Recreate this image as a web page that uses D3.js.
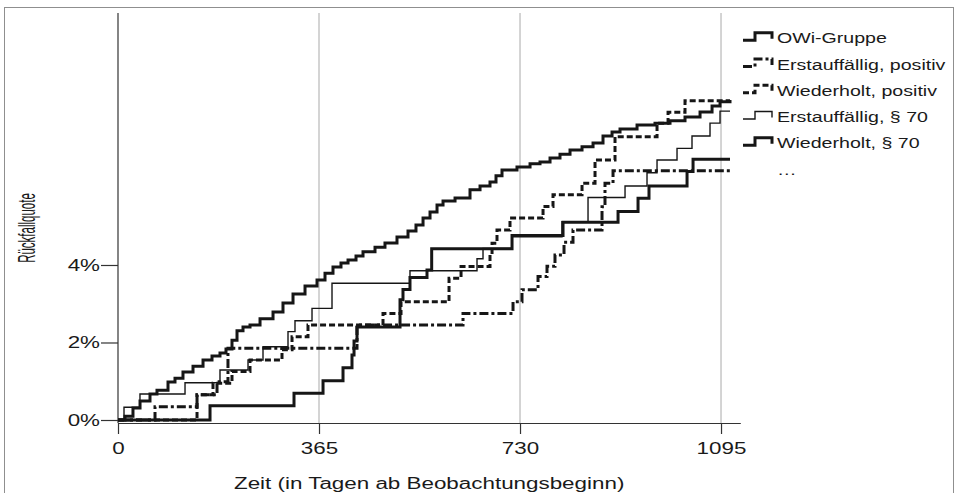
<!DOCTYPE html>
<html>
<head>
<meta charset="utf-8">
<script src="https://cdn.jsdelivr.net/npm/d3@7"></script>
<style>
  body { margin: 0; background: #fff; }
  svg { display: block; }
  text { font-family: "Liberation Sans", Arial, sans-serif; fill: #1a1a1a; }
</style>
</head>
<body>
<svg id="chart" width="956" height="493"></svg>
<script>
// ---- data: cumulative relapse rate (%) by day since start of observation ----
const seriesNames = ["OWi-Gruppe", "Erstauffällig, positiv", "Wiederholt, positiv", "Erstauffällig, § 70", "Wiederholt, § 70"];
const tickDays = [0, 365, 730, 1095];
const tickRates = [0, 2, 4];

const owiDays = [0, 12.7, 27.2, 40.0, 58.1, 70.8, 90.8, 103.5, 118.0, 136.2, 154.4, 170.7, 185.2, 196.1, 207.0, 216.1, 227.0, 239.7, 257.9, 281.5, 299.6, 317.8, 339.6, 361.4, 375.9, 390.4, 404.9, 417.7, 432.2, 444.9, 466.7, 484.8, 506.6, 526.6, 541.1, 553.9, 566.6, 579.3, 590.2, 612.0, 639.2, 657.4, 675.5, 686.4, 697.3, 724.5, 748.2, 766.3, 784.5, 802.6, 820.8, 842.6, 862.6, 880.7, 897.1, 911.6, 942.5, 975.1, 1002.4, 1029.6, 1056.9, 1078.7, 1093.2, 1111.3];
const owiRate = [0, 0.10, 0.31, 0.49, 0.67, 0.77, 0.98, 1.08, 1.24, 1.39, 1.55, 1.65, 1.73, 1.83, 2.06, 2.30, 2.40, 2.45, 2.61, 2.79, 3.02, 3.25, 3.46, 3.61, 3.79, 3.95, 4.05, 4.13, 4.23, 4.34, 4.46, 4.57, 4.72, 4.88, 5.03, 5.21, 5.37, 5.55, 5.65, 5.73, 5.94, 6.04, 6.14, 6.30, 6.45, 6.53, 6.61, 6.66, 6.76, 6.86, 6.97, 7.05, 7.15, 7.33, 7.43, 7.51, 7.61, 7.66, 7.72, 7.82, 7.95, 8.10, 8.21, 8.26];

const erstPosDays = [0, 67.2, 143.5, 179.8, 199.7, 434.0, 626.5, 717.3, 733.6, 762.7, 779.0, 793.5, 809.9, 826.2, 878.9, 884.3, 898.9, 1111.3];
const erstPosRate = [0, 0.34, 0.65, 0.99, 1.85, 2.45, 2.75, 3.05, 3.36, 3.70, 3.97, 4.26, 4.59, 4.90, 5.50, 6.11, 6.43, 6.43];

const wiedPosDays = [0, 143.5, 172.5, 207.0, 239.7, 297.8, 316.0, 345.0, 481.2, 513.9, 601.1, 622.9, 675.5, 679.2, 688.2, 711.8, 771.8, 789.9, 842.6, 866.2, 902.5, 978.8, 998.8, 1029.6, 1111.3];
const wiedPosRate = [0, 0.65, 0.95, 1.25, 1.55, 1.81, 2.15, 2.45, 2.75, 3.05, 3.66, 3.96, 4.26, 4.56, 4.90, 5.21, 5.51, 5.81, 6.11, 6.71, 7.31, 7.66, 7.94, 8.24, 8.24];

const erst70Days = [0, 10.9, 39.9, 121.7, 185.2, 236.1, 263.3, 308.7, 321.4, 352.3, 388.6, 530.2, 651.9, 662.8, 715.5, 806.2, 853.5, 920.7, 960.6, 978.8, 1015.1, 1042.3, 1075.0, 1093.2, 1111.3];
const erst70Rate = [0, 0.33, 0.67, 0.96, 1.29, 1.55, 1.89, 2.28, 2.56, 2.88, 3.53, 3.85, 4.16, 4.43, 4.73, 5.12, 5.74, 6.04, 6.38, 6.71, 7.01, 7.33, 7.66, 7.97, 7.97];

const wied70Days = [0, 167.1, 319.6, 372.3, 408.6, 424.9, 428.6, 434.0, 512.1, 517.5, 530.2, 561.1, 569.6, 715.5, 808.1, 908.0, 944.3, 964.2, 1033.3, 1044.2, 1111.3];
const wied70Rate = [0, 0.37, 0.69, 1.01, 1.35, 1.68, 2.04, 2.40, 3.10, 3.37, 3.68, 3.87, 4.42, 4.76, 5.10, 5.38, 5.72, 6.04, 6.41, 6.73, 6.73];

// ---- drawing ----
const stretch = 1.4;            // wide lettering used throughout the figure
const ink = "#161616";

const series = [
  { name: seriesNames[0], days: owiDays,     rate: owiRate,     width: 3,   dash: null },
  { name: seriesNames[1], days: erstPosDays, rate: erstPosRate, width: 3,   dash: "9,3,3,3" },
  { name: seriesNames[2], days: wiedPosDays, rate: wiedPosRate, width: 3,   dash: "6,3" },
  { name: seriesNames[3], days: erst70Days,  rate: erst70Rate,  width: 1.4, dash: null },
  { name: seriesNames[4], days: wied70Days,  rate: wied70Rate,  width: 3,   dash: null }
];

const svg = d3.select("#chart");
const x = d3.scaleLinear().domain([0, 1130]).range([118, 740.3]);
const y = d3.scaleLinear().domain([0, 10.5]).range([420, 13.1]);
const axisY = 423;

// outer frame
svg.append("rect")
  .attr("x", 4.5).attr("y", 7.5).attr("width", 949).attr("height", 500)
  .attr("fill", "none").attr("stroke", "#8f8f8f").attr("stroke-width", 1);

// vertical reference lines at each full year
svg.append("g").selectAll("line")
  .data(tickDays.filter(d => d > 0))
  .join("line")
  .attr("x1", d => x(d)).attr("x2", d => x(d))
  .attr("y1", y(10.5)).attr("y2", axisY)
  .attr("stroke", "#c6c6c6").attr("stroke-width", 1.5);

// x axis
const gx = svg.append("g")
  .attr("transform", `translate(0,${axisY})`)
  .call(d3.axisBottom(x).tickValues(tickDays).tickFormat(d3.format("d"))
    .tickSizeInner(11).tickSizeOuter(0).tickPadding(9))
  .attr("font-family", null).attr("font-size", null);
gx.select(".domain").attr("stroke", "#333").attr("stroke-width", 1.2);
gx.selectAll(".tick line").attr("stroke", "#333").attr("stroke-width", 1.2);
gx.selectAll(".tick text")
  .attr("font-size", 16)
  .attr("fill", ink)
  .attr("transform", `scale(${stretch},1)`);

// y axis
const gy = svg.append("g")
  .attr("transform", `translate(${x(0)},0)`)
  .call(d3.axisLeft(y).tickValues(tickRates).tickFormat(d => d + "%")
    .tickSizeInner(17).tickSizeOuter(0).tickPadding(1))
  .attr("font-family", null).attr("font-size", null);
gy.select(".domain").remove();
gy.selectAll(".tick line").attr("stroke", "#333").attr("stroke-width", 1.2);
gy.selectAll(".tick text")
  .attr("font-size", 16)
  .attr("fill", ink)
  .attr("x", -18 / stretch)
  .attr("transform", `scale(${stretch},1)`);
svg.append("line")
  .attr("x1", x(0)).attr("x2", x(0))
  .attr("y1", y(10.5)).attr("y2", axisY)
  .attr("stroke", "#333").attr("stroke-width", 1.2);

// axis titles
svg.append("text")
  .attr("transform", `translate(${(x.range()[0] + x.range()[1]) / 2},489) scale(${stretch},1)`)
  .attr("text-anchor", "middle").attr("font-size", 16)
  .text("Zeit (in Tagen ab Beobachtungsbeginn)");
svg.append("text")
  .attr("transform", `translate(27,228) scale(2.1,1) rotate(-90)`)
  .attr("text-anchor", "middle").attr("dy", "0.35em").attr("font-size", 11.5)
  .text("Rückfallquote");

// step curves
const line = d3.line()
  .x(d => x(d[0]))
  .y(d => y(d[1]))
  .curve(d3.curveStepAfter);

svg.append("g").selectAll("path")
  .data(series)
  .join("path")
  .attr("d", s => line(s.days.map((d, i) => [d, s.rate[i]])))
  .attr("fill", "none")
  .attr("stroke", ink)
  .attr("stroke-width", s => s.width)
  .attr("stroke-dasharray", s => s.dash)
  .attr("stroke-linejoin", "miter");

// legend
const legY0 = 38.3, legStep = 26.25;
const leg = svg.append("g").selectAll("g")
  .data(series)
  .join("g")
  .attr("transform", (s, i) => `translate(743,${legY0 + i * legStep})`);
leg.append("path")
  .attr("d", "M0,2H12V-5.5H29V0.5")
  .attr("fill", "none")
  .attr("stroke", ink)
  .attr("stroke-width", s => s.width)
  .attr("stroke-dasharray", s => s.dash);
leg.append("text")
  .attr("transform", `translate(34,0) scale(${stretch},1)`)
  .attr("dy", "0.36em").attr("font-size", 14)
  .text(s => s.name);
svg.append("text")
  .attr("transform", `translate(777,${legY0 + 5 * legStep}) scale(${stretch},1)`)
  .attr("dy", "0.36em").attr("font-size", 14)
  .text("…");
</script>
</body>
</html>
